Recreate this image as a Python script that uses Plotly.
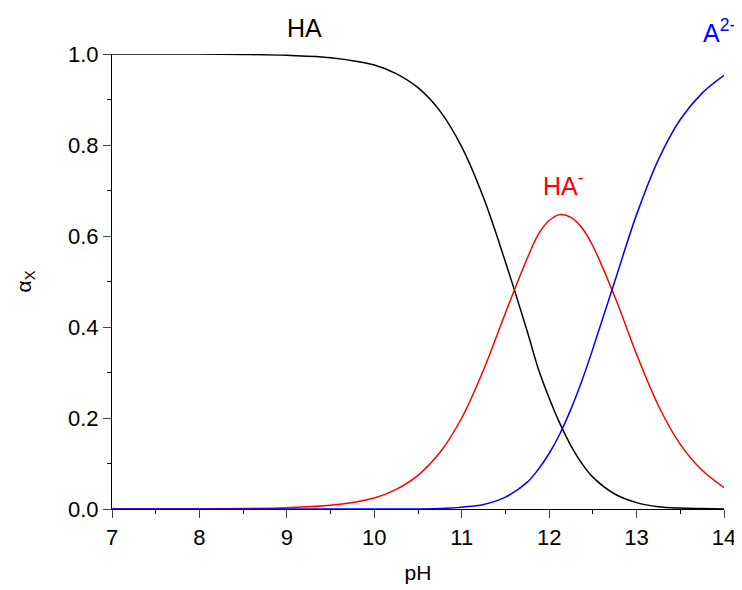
import plotly.graph_objects as go

pH = [7.0, 7.5, 8.0, 8.5, 9.0, 9.5, 10.0, 10.25, 10.5, 10.75, 11.0, 11.25, 11.5, 11.75, 11.875,
      12.0, 12.125, 12.25, 12.375, 12.5, 12.75, 13.0, 13.25, 13.5, 13.75, 14.0]
alpha_HA = [1.000, 1.000, 1.000, 0.999, 0.997, 0.992, 0.976, 0.957, 0.926, 0.875, 0.796,
            0.684, 0.543, 0.390, 0.309, 0.244, 0.187, 0.139, 0.100, 0.070, 0.033, 0.014, 0.005,
            0.002, 0.001, 0.000]
alpha_HA_minus = [0.000, 0.000, 0.000, 0.001, 0.003, 0.008, 0.024, 0.043, 0.074, 0.124, 0.200,
                  0.306, 0.431, 0.551, 0.603, 0.634, 0.647, 0.641, 0.618, 0.578, 0.467, 0.340,
                  0.227, 0.142, 0.085, 0.047]
alpha_A2_minus = [0.000, 0.000, 0.000, 0.000, 0.000, 0.000, 0.000, 0.000, 0.000, 0.001, 0.004,
                  0.010, 0.026, 0.059, 0.087, 0.122, 0.166, 0.220, 0.282, 0.352, 0.500, 0.647,
                  0.768, 0.856, 0.914, 0.953]

x_ticks = [7, 8, 9, 10, 11, 12, 13, 14]
y_ticks = [0.0, 0.2, 0.4, 0.6, 0.8, 1.0]
y_tick_labels = ["0.0", "0.2", "0.4", "0.6", "0.8", "1.0"]

fig = go.Figure()
for ys, col in [(alpha_HA, "black"), (alpha_HA_minus, "red"), (alpha_A2_minus, "blue")]:
    fig.add_trace(go.Scatter(x=pH, y=ys, mode="lines",
                             line=dict(color=col, width=1.5, shape="spline", smoothing=1.0),
                             showlegend=False, cliponaxis=False))

font = "Liberation Sans, Arial, sans-serif"
fig.update_layout(
    width=742, height=590,
    margin=dict(l=104, r=26, t=46, b=89, autoexpand=False),
    plot_bgcolor="white", paper_bgcolor="white",
    font=dict(family=font, size=22, color="black"),
    xaxis=dict(range=[7, 14], tickvals=x_ticks, ticks="outside", ticklen=8, tickwidth=1.2,
               showline=True, linecolor="black", linewidth=1.2, showgrid=False, zeroline=False,
               automargin=False,
               minor=dict(dtick=0.5, ticks="outside", ticklen=4, tickwidth=1.2, tickcolor="black"),
               title=dict(text="pH", font=dict(size=21), standoff=16), tickfont=dict(size=22)),
    yaxis=dict(range=[0, 1], tickvals=y_ticks, ticktext=y_tick_labels, ticks="outside", ticklen=8,
               tickwidth=1.2, showline=True, linecolor="black", linewidth=1.2, showgrid=False,
               zeroline=False, automargin=False,
               minor=dict(dtick=0.1, ticks="outside", ticklen=4, tickwidth=1.2, tickcolor="black"),
               title=dict(text="α<sub>X</sub>", font=dict(size=21), standoff=30), tickfont=dict(size=22)),
)

fig.add_annotation(x=9.2, y=1.057, xref="x", yref="paper", yanchor="middle", text="HA",
                   showarrow=False, font=dict(size=25, color="black"))
fig.add_annotation(x=12.16, y=0.715, xref="x", yref="paper", yanchor="middle", text="HA<sup>-</sup>",
                   showarrow=False, font=dict(size=25, color="red"))
fig.add_annotation(x=13.94, y=1.05, xref="x", yref="paper", yanchor="middle", text="A<sup>2-</sup>",
                   showarrow=False, font=dict(size=25, color="blue"))

fig.write_html("out.html")
